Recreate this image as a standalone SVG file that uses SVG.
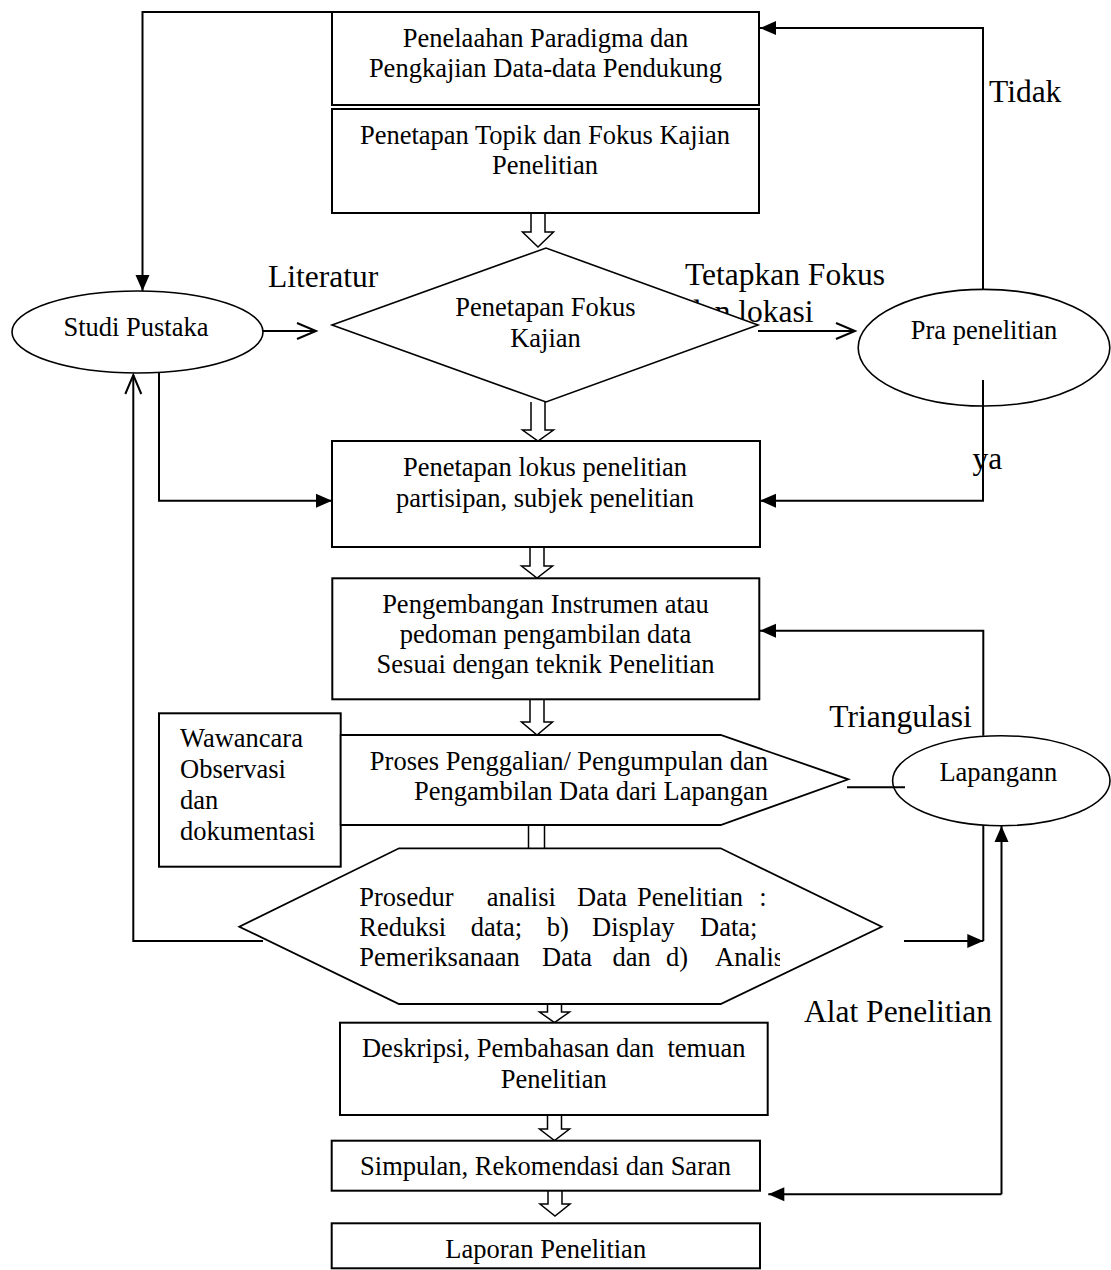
<svg xmlns="http://www.w3.org/2000/svg" width="1111" height="1270" viewBox="0 0 1111 1270">
<style>
.n{font-family:"Liberation Serif","Times New Roman",serif;font-size:26.5px;fill:#000;white-space:pre}
.l{font-family:"Liberation Serif","Times New Roman",serif;font-size:31.5px;fill:#000}
.c{text-anchor:middle}
.box{fill:#fff;stroke:#000;stroke-width:2}
.ell{fill:none;stroke:#000;stroke-width:1.6}
.ln{fill:none;stroke:#000;stroke-width:2}
.ha{fill:#fff;stroke:#000;stroke-width:1.5}
</style>
<defs>
<marker id="fa" markerUnits="userSpaceOnUse" markerWidth="16" markerHeight="14" refX="16" refY="7" orient="auto" overflow="visible"><path d="M0,0 L16,7 L0,14 Z" fill="#000"/></marker>
<marker id="oa" markerUnits="userSpaceOnUse" markerWidth="20" markerHeight="17" refX="19" refY="8" orient="auto" overflow="visible"><path d="M0,0 L19,8 L0,16" fill="none" stroke="#000" stroke-width="2"/></marker>
<clipPath id="hexclip"><rect x="340" y="870" width="440" height="120"/></clipPath>
</defs>
<rect width="1111" height="1270" fill="#fff"/>
<g id="connectors">
<path class="ln" d="M332,12 L142.5,12 L142.5,291" marker-end="url(#fa)"/>
<path class="ln" d="M983,290 L983,28 L760,28" marker-end="url(#fa)"/>
<path class="ln" d="M263,331 L316,331" marker-end="url(#oa)"/>
<path class="ln" d="M758,331 L855,331" marker-end="url(#oa)"/>
<path class="ln" d="M159,372 L159,500.7 L332,500.7" marker-end="url(#fa)"/>
<path class="ln" d="M983,380 L983,500.7 L760,500.7" marker-end="url(#fa)"/>
<path class="ln" d="M983.3,735.7 L983.3,630.7 L760,630.7" marker-end="url(#fa)"/>
<path class="ln" d="M847,787.3 L905,787.3"/>
<path class="ln" d="M263,941 L133.3,941 L133.3,375" marker-end="url(#oa)"/>
<path class="ln" d="M983.3,825 L983.3,941"/>
<path class="ln" d="M904,941 L983.3,941" marker-end="url(#fa)"/>
<path class="ln" d="M1001.5,1194.3 L1001.5,826" marker-end="url(#fa)"/>
<path class="ln" d="M1001.5,1194.3 L768.3,1194.3" marker-end="url(#fa)"/>
<path class="ha" d="M531,213 L531,232 L522.5,232 L538,247 L553.5,232 L545,232 L545,213"/>
<path class="ha" d="M531,402 L531,430 L522.5,430 L538,441 L553.5,430 L545,430 L545,402"/>
<path class="ha" d="M530,547 L530,566 L521.5,566 L537,578 L552.5,566 L544,566 L544,547"/>
<path class="ha" d="M530,699 L530,722 L521.5,722 L537,735 L552.5,722 L544,722 L544,699"/>
<path class="ha" d="M528.5,825 L528.5,856 L520.5,856 L536.5,868 L552.5,856 L544.5,856 L544.5,825"/>
<path class="ha" d="M547.5,1004 L547.5,1012 L539.5,1012 L554.5,1022.5 L569.5,1012 L561.5,1012 L561.5,1004"/>
<path class="ha" d="M547.5,1115 L547.5,1129 L539.5,1129 L554.5,1140.5 L569.5,1129 L561.5,1129 L561.5,1115"/>
<path class="ha" d="M548,1191 L548,1204 L540,1204 L555,1216 L570,1204 L562,1204 L562,1191"/>
</g>
<g id="labels">
<text class="l" x="989" y="101.7">Tidak</text>
<text class="l" x="268" y="286.7">Literatur</text>
<text class="l" x="685" y="285">Tetapkan Fokus</text>
<text class="l" x="685" y="321.7">dan lokasi</text>
<text class="l" x="972.5" y="469">ya</text>
<text class="l" x="829.3" y="726.7">Triangulasi</text>
<text class="l" x="804" y="1021.7">Alat Penelitian</text>
</g>
<g id="node-paradigma">
<rect class="box" x="332" y="12" width="427" height="93"/>
<text class="n c" x="545.5" y="46.7">Penelaahan Paradigma dan</text>
<text class="n c" x="545.5" y="77.3">Pengkajian Data-data Pendukung</text>
</g>
<g id="node-topik">
<rect class="box" x="332" y="109" width="427" height="104"/>
<text class="n c" x="545" y="144">Penetapan Topik dan Fokus Kajian</text>
<text class="n c" x="545" y="174">Penelitian</text>
</g>
<g id="node-studi">
<ellipse class="ell" cx="137.5" cy="332" rx="125.5" ry="41"/>
<text class="n c" x="136" y="335.7">Studi Pustaka</text>
</g>
<g id="node-fokus">
<polygon points="332,325 546,248 758,325 546,402" fill="#fff" stroke="#000" stroke-width="1.6"/>
<text class="n c" x="545.5" y="316">Penetapan Fokus</text>
<text class="n c" x="545.5" y="347.3">Kajian</text>
</g>
<g id="node-pra">
<ellipse class="ell" cx="984" cy="347.7" rx="125.8" ry="58.3"/>
<text class="n c" x="984" y="339">Pra penelitian</text>
</g>
<g id="node-lokus">
<rect class="box" x="332" y="441" width="428" height="106"/>
<text class="n c" x="545" y="476">Penetapan lokus penelitian</text>
<text class="n c" x="545" y="507.3">partisipan, subjek penelitian</text>
</g>
<g id="node-instrumen">
<rect class="box" x="332.3" y="578.3" width="427" height="121"/>
<text class="n c" x="545.5" y="613.3">Pengembangan Instrumen atau</text>
<text class="n c" x="545.5" y="643.3">pedoman pengambilan data</text>
<text class="n c" x="545.5" y="673.3">Sesuai dengan teknik Penelitian</text>
</g>
<g id="node-wawancara">
<rect class="box" x="159" y="713.3" width="181.7" height="153.4"/>
<text class="n" x="180" y="747.3">Wawancara</text>
<text class="n" x="180" y="778.3">Observasi</text>
<text class="n" x="180" y="809.3">dan</text>
<text class="n" x="180" y="840.3">dokumentasi</text>
</g>
<g id="node-proses">
<polygon points="340.7,735 720.7,735 848.3,779.3 720.7,825 340.7,825" fill="#fff" stroke="#000" stroke-width="1.8"/>
<text class="n" x="768" y="770" text-anchor="end">Proses Penggalian/ Pengumpulan dan</text>
<text class="n" x="768" y="800" text-anchor="end">Pengambilan Data dari Lapangan</text>
</g>
<g id="node-lapangan">
<ellipse class="ell" cx="1001.3" cy="780.7" rx="108.7" ry="45"/>
<text class="n c" x="998.3" y="780.7">Lapangann</text>
</g>
<g id="node-analisis">
<polygon points="399,848.3 720.7,848.3 881.7,926.7 720.7,1004 399,1004 239.3,926.7" fill="#fff" stroke="#000" stroke-width="1.8"/>
<g clip-path="url(#hexclip)">
<text class="n" y="906"><tspan x="359.3">Prosedur</tspan><tspan x="486.7">analisi</tspan><tspan x="577">Data</tspan><tspan x="637">Penelitian</tspan><tspan x="759.3">:</tspan></text>
<text class="n" y="936"><tspan x="359.3">Reduksi</tspan><tspan x="470.7">data;</tspan><tspan x="546.7">b)</tspan><tspan x="592">Display</tspan><tspan x="700.1">Data;</tspan></text>
<text class="n" y="966"><tspan x="359.3">Pemeriksanaan</tspan><tspan x="542">Data</tspan><tspan x="612.5">dan</tspan><tspan x="666">d)</tspan><tspan x="715">Analis</tspan></text>
</g>
</g>
<g id="node-deskripsi">
<rect class="box" x="340" y="1022.7" width="427.7" height="92.3"/>
<text class="n c" x="553.7" y="1057.3">Deskripsi, Pembahasan dan  temuan</text>
<text class="n c" x="553.7" y="1088.3">Penelitian</text>
</g>
<g id="node-simpulan">
<rect class="box" x="331.7" y="1140.7" width="428.3" height="50"/>
<text class="n c" x="545.5" y="1175">Simpulan, Rekomendasi dan Saran</text>
</g>
<g id="node-laporan">
<rect class="box" x="331.7" y="1223.3" width="428.3" height="45"/>
<text class="n c" x="545.7" y="1258.3">Laporan Penelitian</text>
</g>
</svg>
